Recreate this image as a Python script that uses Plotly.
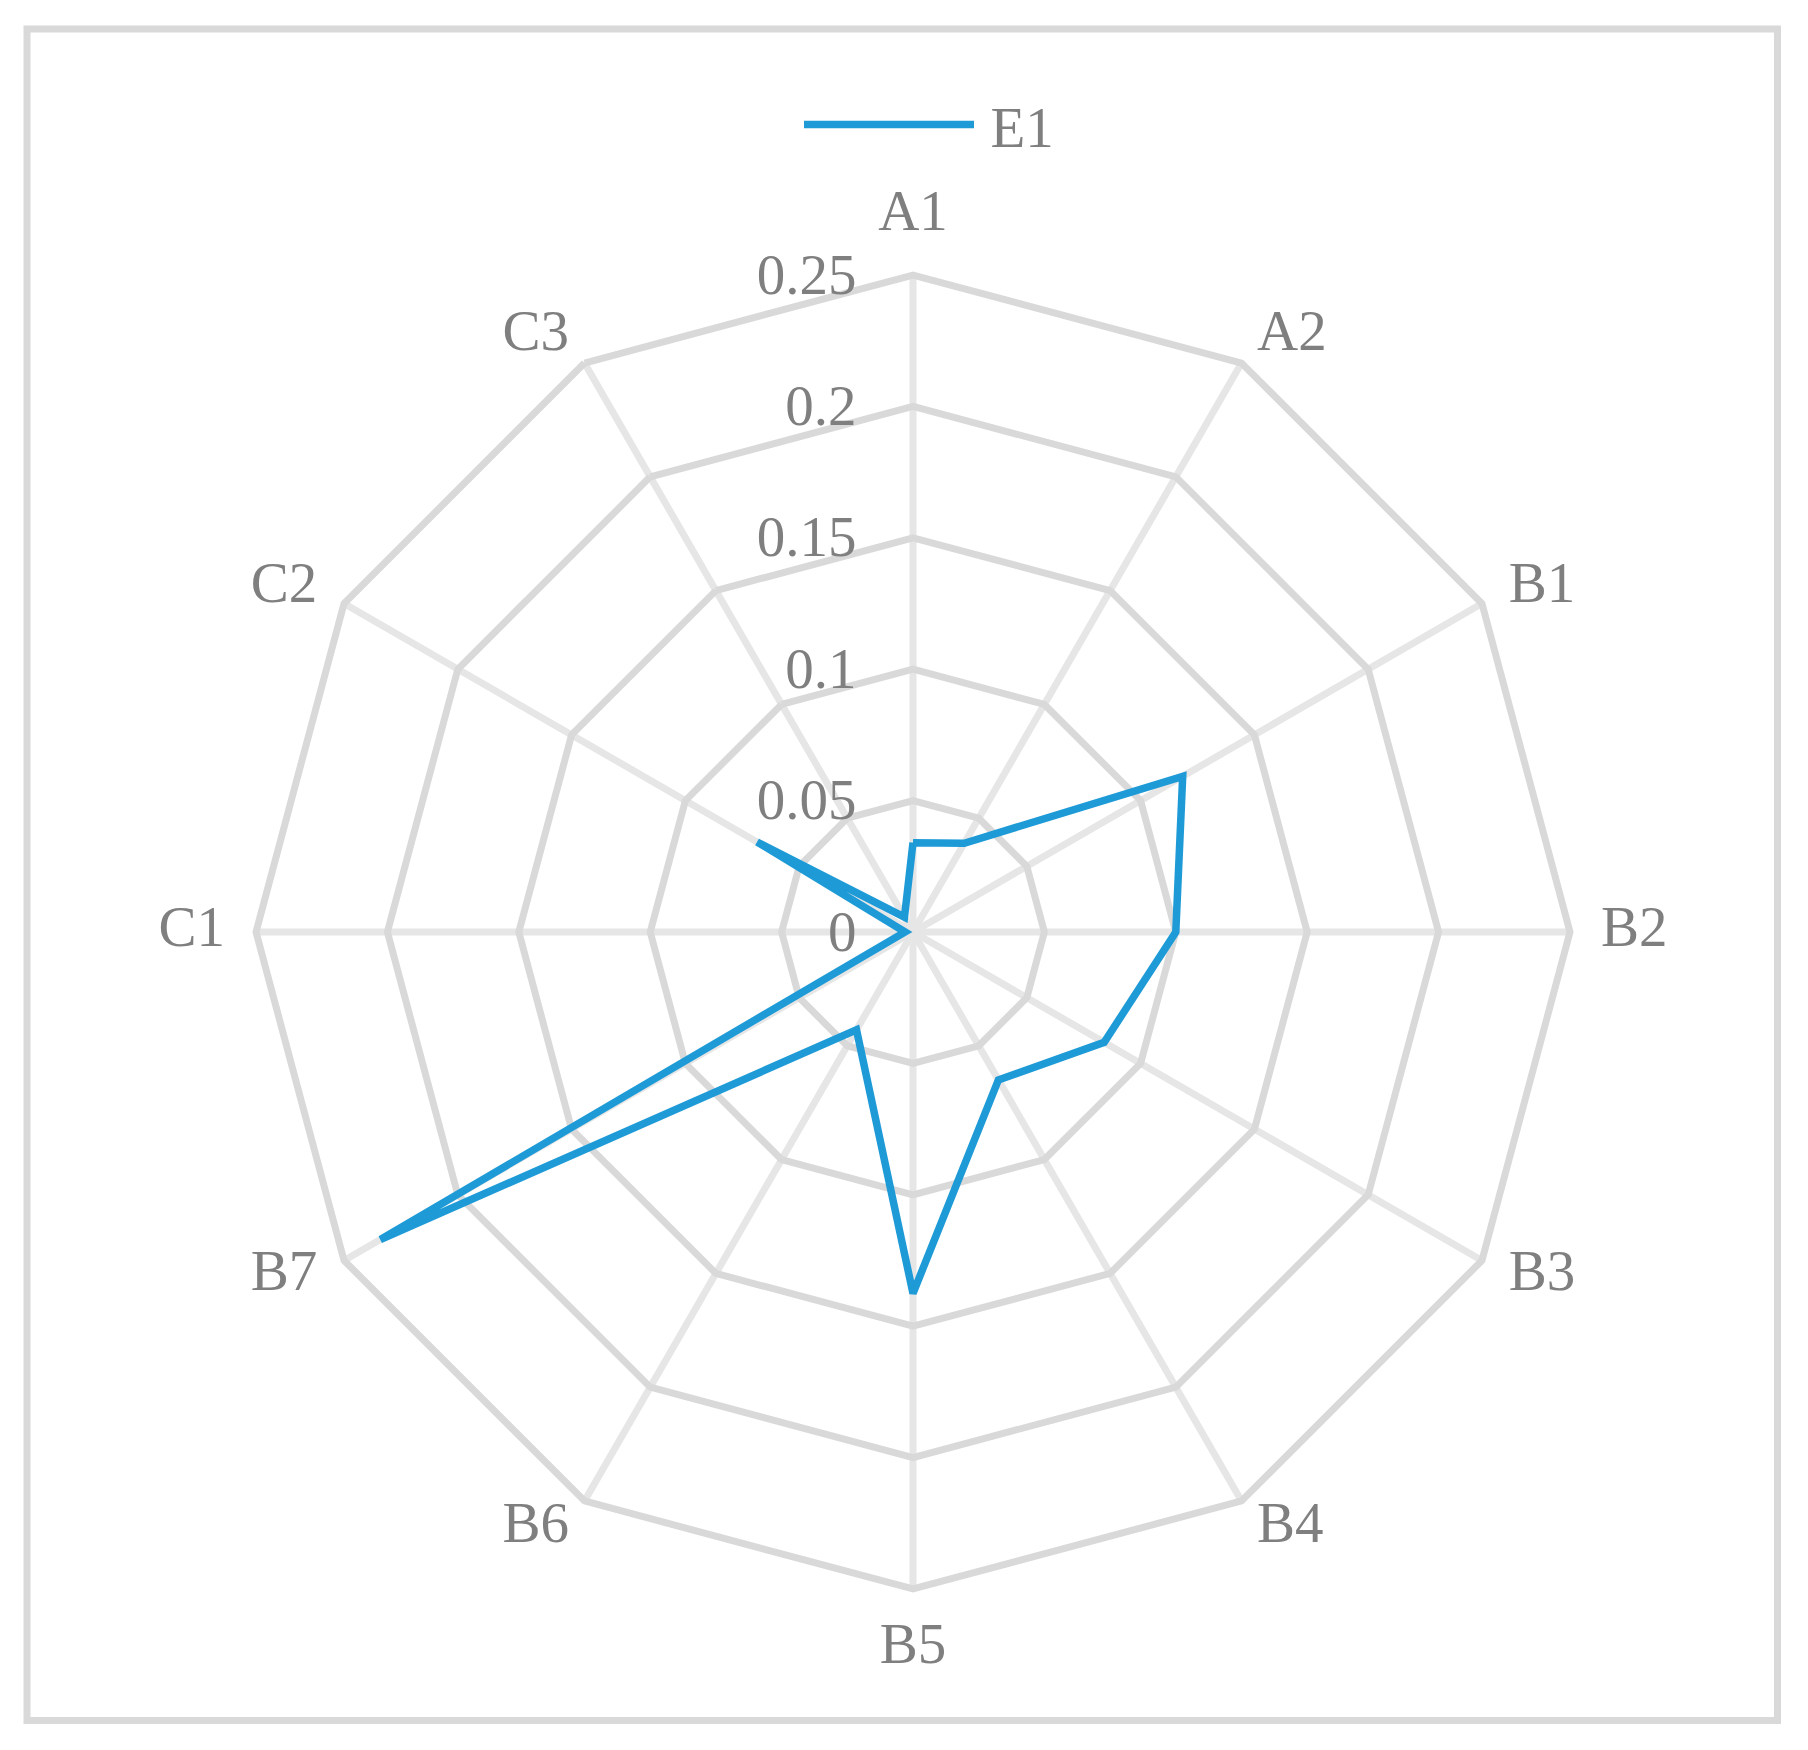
import plotly.graph_objects as go

categories = ["A1", "A2", "B1", "B2", "B3", "B4", "B5", "B6", "B7", "C1", "C2", "C3"]
e1_values = [0.034, 0.039, 0.1185, 0.100, 0.084, 0.065, 0.1375, 0.043, 0.234, 0.003, 0.0685, 0.0065]
radial_ticks = [0, 0.05, 0.1, 0.15, 0.2, 0.25]
radial_tick_text = ["0", "0.05", "0.1", "0.15", "0.2", "0.25"]

W, H = 1808, 1750
OFF = 8  # page body margin
cx, cy, R = 913 - OFF, 932 - OFF, 657
RMAX = 0.25
LABEL_GAP = 31                  # px from outer polygon to label anchor
R2 = R + LABEL_GAP + 20         # radius of the label overlay subplot
LABEL_RANGE = RMAX * R2 / R     # overlay range so its scale equals the main one
LABEL_R = RMAX * (R + LABEL_GAP) / R

FONT = "Liberation Serif, Times New Roman, serif"
TXT = "#7f7f7f"
BLUE = "#1e9bd7"
FS = 57
GRID_W = 7


def dom(rad):
    return dict(x=[(cx - rad) / W, (cx + rad) / W], y=[1 - (cy + rad) / H, 1 - (cy - rad) / H])


n = len(categories)
label_pos = []
for i in range(n):
    ang = i * 360 / n
    if ang == 0:
        label_pos.append("top center")
    elif ang == 180:
        label_pos.append("bottom center")
    elif ang < 180:
        label_pos.append("middle right")
    else:
        label_pos.append("middle left")

fig = go.Figure()
fig.add_trace(go.Scatterpolar(
    r=e1_values + [e1_values[0]],
    theta=categories + [categories[0]],
    mode="lines",
    name="\u2009E1",
    line=dict(color=BLUE, width=7.5),
))
# category labels, placed through an overlay polar subplot's scales
fig.add_trace(go.Scatterpolar(
    r=[LABEL_R] * n,
    theta=categories,
    mode="text",
    text=categories,
    textposition=label_pos,
    textfont=dict(family=FONT, size=FS, color=TXT),
    cliponaxis=False,
    showlegend=False,
    hoverinfo="skip",
    subplot="polar2",
))

fig.update_layout(
    width=W, height=H,
    margin=dict(l=0, r=0, t=0, b=0),
    paper_bgcolor="white",
    font=dict(family=FONT, size=FS, color=TXT),
    showlegend=True,
    legend=dict(orientation="h", x=(929 - OFF) / W, xanchor="center",
                y=1 - (125 - OFF) / H, yanchor="middle",
                itemwidth=170, font=dict(size=FS, color=TXT),
                bgcolor="rgba(0,0,0,0)"),
    polar=dict(
        domain=dom(R),
        gridshape="linear",
        bgcolor="white",
        angularaxis=dict(
            direction="clockwise", rotation=90,
            categoryorder="array", categoryarray=categories,
            showline=True, linecolor="#d9d9d9", linewidth=GRID_W,
            showgrid=True, gridcolor="#e6e6e6", gridwidth=GRID_W,
            ticks="", showticklabels=False,
        ),
        radialaxis=dict(
            range=[0, RMAX], angle=90, tickangle=90,
            tickvals=radial_ticks, ticktext=radial_tick_text,
            showline=False, side="counterclockwise",
            showgrid=True, gridcolor="#d9d9d9", gridwidth=GRID_W,
            ticks="outside", ticklen=36, tickcolor="rgba(0,0,0,0)",
            tickfont=dict(family=FONT, size=FS, color=TXT),
        ),
    ),
    polar2=dict(
        domain=dom(R2),
        bgcolor="rgba(0,0,0,0)",
        angularaxis=dict(
            direction="clockwise", rotation=90,
            categoryorder="array", categoryarray=categories,
            showline=False, showgrid=False, ticks="", showticklabels=False,
        ),
        radialaxis=dict(range=[0, LABEL_RANGE], visible=False, showgrid=False),
    ),
    shapes=[dict(type="rect", xref="paper", yref="paper",
                 x0=(27 - OFF) / W, x1=(1777.5 - OFF) / W,
                 y0=1 - (1720.5 - OFF) / H, y1=1 - (29 - OFF) / H,
                 line=dict(color="#d9d9d9", width=7), layer="below")],
)

fig.write_html("out.html")
